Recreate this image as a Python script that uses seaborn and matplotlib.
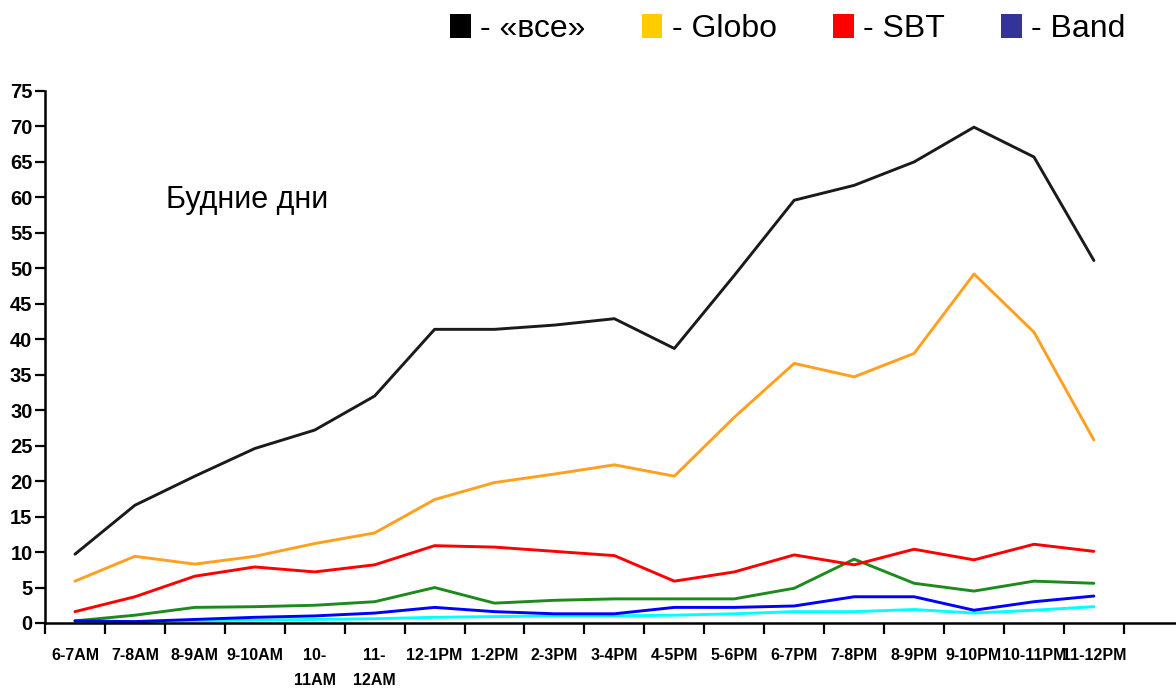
import numpy as np
import pandas as pd
import matplotlib
matplotlib.use('Agg')
import matplotlib.pyplot as plt
from matplotlib.patches import Patch
from matplotlib import font_manager
import seaborn as sns

# time slots (weekday)
slots = ['6-7AM', '7-8AM', '8-9AM', '9-10AM', '10-\n11AM', '11-\n12AM',
         '12-1PM', '1-2PM', '2-3PM', '3-4PM', '4-5PM', '5-6PM',
         '6-7PM', '7-8PM', '8-9PM', '9-10PM', '10-11PM', '11-12PM']

# audience values
vse = [9.7, 16.6, 20.7, 24.6, 27.2, 32.0, 41.4, 41.4, 42.0, 42.9, 38.7, 49.0,
       59.6, 61.7, 65.0, 69.9, 65.7, 51.1]
globo = [5.9, 9.4, 8.3, 9.4, 11.2, 12.7, 17.4, 19.8, 21.0, 22.3, 20.7, 29.0,
         36.6, 34.7, 38.0, 49.2, 41.0, 25.8]
sbt = [1.6, 3.7, 6.6, 7.9, 7.2, 8.2, 10.9, 10.7, 10.1, 9.5, 5.9, 7.2,
       9.6, 8.2, 10.4, 8.9, 11.1, 10.1]
green_line = [0.3, 1.1, 2.2, 2.3, 2.5, 3.0, 5.0, 2.8, 3.2, 3.4, 3.4, 3.4,
              4.9, 9.0, 5.6, 4.5, 5.9, 5.6]
band = [0.3, 0.2, 0.5, 0.8, 1.0, 1.4, 2.2, 1.6, 1.3, 1.3, 2.2, 2.2,
        2.4, 3.7, 3.7, 1.8, 3.0, 3.8]
cyan_line = [0.2, 0.2, 0.3, 0.4, 0.5, 0.6, 0.8, 0.9, 1.0, 1.0, 1.1, 1.3,
             1.6, 1.6, 1.9, 1.4, 1.8, 2.3]

legend_labels = ['- «все»', '- Globo', '- SBT', '- Band']
legend_colors = ['#000000', '#FFCC00', '#FF0000', '#333399']

series = {'cyan': cyan_line, 'green': green_line, 'Band': band,
          'SBT': sbt, 'Globo': globo, 'все': vse}
line_colors = {'cyan': '#00FFFF', 'green': '#1E8A1E', 'Band': '#0000FF',
               'SBT': '#FF0000', 'Globo': '#FFA020', 'все': '#1A1A1A'}

rows = []
for name, vals in series.items():
    for i, v in enumerate(vals):
        rows.append({'pos': i, 'slot': slots[i], 'series': name, 'value': v})
df = pd.DataFrame(rows)

sns.set_theme(style='ticks')
plt.rcParams['font.family'] = ['Liberation Sans', 'DejaVu Sans']
plt.rcParams['text.color'] = 'black'
names = {f.name for f in font_manager.fontManager.ttflist}
tick_font = 'Liberation Sans Narrow' if 'Liberation Sans Narrow' in names else 'Liberation Sans'

fig = plt.figure(figsize=(11.76, 6.88), dpi=100)
ax = fig.add_axes([45 / 1176, 65 / 688, 1131 / 1176, 532 / 688])

sns.lineplot(data=df, x='pos', y='value', hue='series', hue_order=list(series.keys()),
             palette=line_colors, linewidth=2.1, legend=False, sort=False, ax=ax)

ax.set_xlim(-0.5, 18.37)
ax.set_ylim(0, 75)
ax.set_xlabel('')
ax.set_ylabel('')

# ticks at category boundaries, labels in between
ax.set_xticks(np.arange(-0.5, 18, 1))
ax.set_xticklabels([])
ax.set_xticks(np.arange(len(slots)), minor=True)
ax.set_xticklabels(slots, minor=True, fontfamily=tick_font, fontweight='bold',
                   fontsize=11.5, color='black')
for t in ax.get_xticklabels(minor=True):
    t.set_linespacing(1.8)
ax.tick_params(axis='x', which='major', length=8, width=1.6, color='black', direction='out')
ax.tick_params(axis='x', which='minor', length=0, pad=18)

ax.set_yticks(range(0, 80, 5))
ax.set_yticklabels([str(v) for v in range(0, 80, 5)], fontfamily=tick_font,
                   fontweight='bold', fontsize=14.5, color='black')
ax.tick_params(axis='y', length=7, width=1.6, color='black', pad=2)

sns.despine(ax=ax)
for s in ['left', 'bottom']:
    ax.spines[s].set_linewidth(1.8)
    ax.spines[s].set_color('black')

fig.text(166 / 1176, 1 - 200 / 688, 'Будние дни', fontsize=22, va='center', ha='left',
         color='black')

handles = [Patch(facecolor=c, edgecolor='none') for c in legend_colors]
leg = fig.legend(handles, legend_labels, ncol=4, loc='center left',
                 bbox_to_anchor=(450 / 1176, 1 - 29 / 688), frameon=False, fontsize=23,
                 handlelength=0.65, handleheight=0.75, handletextpad=0.3,
                 columnspacing=1.75, borderpad=0, borderaxespad=0)
for t in leg.get_texts():
    t.set_color('black')

fig.savefig('out.png', dpi=100)
